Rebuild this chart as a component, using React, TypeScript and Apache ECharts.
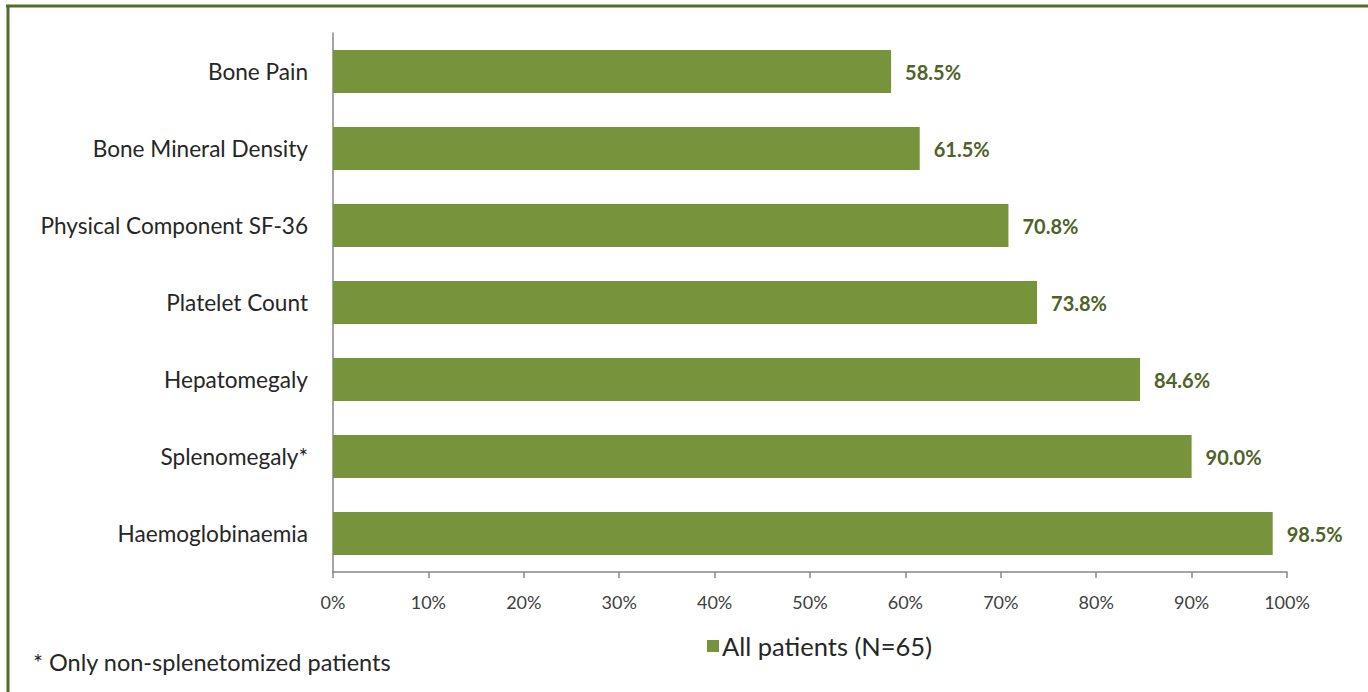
import React, { useEffect, useRef } from "react";
import * as echarts from "echarts";

const categories = [
  "Bone Pain",
  "Bone Mineral Density",
  "Physical Component SF-36",
  "Platelet Count",
  "Hepatomegaly",
  "Splenomegaly*",
  "Haemoglobinaemia",
];
const values = [58.5, 61.5, 70.8, 73.8, 84.6, 90.0, 98.5];
const seriesName = "All patients (N=65)";
const footnote = "* Only non-splenetomized patients";

const FONT = "Lato, 'Open Sans', sans-serif";

export default function App() {
  const ref = useRef<HTMLDivElement>(null);
  useEffect(() => {
    if (!ref.current) return;
    const chart = echarts.init(ref.current, undefined, { renderer: "svg" });
    chart.setOption({
      animation: false,
      backgroundColor: "#ffffff",
      textStyle: { fontFamily: FONT },
      grid: { left: 333, right: 81, top: 33, bottom: 120, containLabel: false },
      xAxis: {
        type: "value",
        min: 0,
        max: 100,
        interval: 10,
        axisLine: { show: true, lineStyle: { color: "#868686", width: 1.5 } },
        axisTick: { show: true, length: 6, lineStyle: { color: "#868686", width: 1.5 } },
        splitLine: { show: false },
        axisLabel: {
          formatter: "{value}%",
          fontSize: 18,
          color: "#404040",
          margin: 21,
          fontFamily: FONT,
        },
      },
      yAxis: {
        type: "category",
        data: categories,
        inverse: true,
        axisLine: { show: true, lineStyle: { color: "#868686", width: 1.5 } },
        axisTick: { show: false },
        axisLabel: { fontSize: 22.6, color: "#262626", margin: 25, fontFamily: FONT },
      },
      legend: {
        show: true,
        left: 702,
        top: 628,
        itemWidth: 12,
        itemHeight: 12,
        icon: "rect",
        itemGap: 6,
        textStyle: { fontSize: 25.5, color: "#262626", fontFamily: FONT, padding: [0, 0, 0, -2] },
        data: [seriesName],
      },
      series: [
        {
          name: seriesName,
          type: "bar",
          data: values,
          barWidth: 43,
          itemStyle: { color: "#77933C" },
          label: {
            show: true,
            position: "right",
            distance: 14,
            formatter: (p: any) => p.value.toFixed(1) + "%",
            fontSize: 20,
            fontWeight: "bold",
            color: "#4F6228",
            fontFamily: FONT,
          },
        },
      ],
      graphic: [
        {
          type: "line",
          shape: { x1: 6, y1: 6, x2: 1368, y2: 6 },
          style: { stroke: "#546B2C", lineWidth: 3 },
        },
        {
          type: "line",
          shape: { x1: 8, y1: 5, x2: 8, y2: 692 },
          style: { stroke: "#546B2C", lineWidth: 3 },
        },
        {
          type: "text",
          left: 33,
          top: 650,
          style: { text: footnote, fontSize: 23.5, fill: "#262626", fontFamily: FONT },
        },
      ],
    });
    return () => chart.dispose();
  }, []);
  return (
    <div
      ref={ref}
      style={{ position: "fixed", left: 0, top: 0, width: 1368, height: 692 }}
    />
  );
}
